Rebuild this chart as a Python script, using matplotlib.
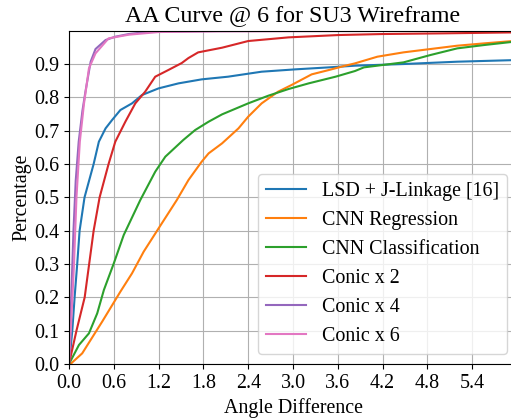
import matplotlib
matplotlib.use('Agg')
import matplotlib.pyplot as plt

plt.rcParams['font.family'] = ['Liberation Serif', 'DejaVu Serif']
plt.rcParams['font.size'] = 14.4

# curves (angle difference -> cumulative percentage)
lsd_x = [0, 0.01, 0.044, 0.075, 0.11, 0.142, 0.208, 0.33, 0.4, 0.49, 0.577, 0.688,
         0.844, 0.977, 1.2, 1.467, 1.777, 2.13, 2.58, 3.03, 3.48, 3.83, 4.48, 5.2, 6.0]
lsd_y = [0, 0.02, 0.1, 0.2, 0.3, 0.4, 0.5, 0.6, 0.667, 0.707, 0.732, 0.762,
         0.782, 0.807, 0.827, 0.842, 0.854, 0.862, 0.877, 0.884, 0.89, 0.895, 0.9, 0.907, 0.912]

reg_x = [0, 0.02, 0.177, 0.444, 0.688, 0.844, 1.0, 1.2, 1.444, 1.6, 1.777, 1.87, 2.05,
         2.27, 2.4, 2.58, 2.8, 2.98, 3.25, 3.48, 3.7, 3.83, 4.13, 4.48, 4.84, 5.2, 5.56, 6.0]
reg_y = [0, 0, 0.032, 0.127, 0.217, 0.272, 0.337, 0.407, 0.492, 0.552, 0.607, 0.632, 0.662,
         0.707, 0.742, 0.782, 0.817, 0.837, 0.869, 0.882, 0.895, 0.902, 0.922, 0.935, 0.945,
         0.955, 0.962, 0.97]

cls_x = [0, 0.133, 0.267, 0.378, 0.467, 0.6, 0.733, 0.955, 1.155, 1.29, 1.53, 1.69, 1.87,
         2.05, 2.4, 2.67, 2.94, 3.21, 3.57, 3.83, 3.95, 4.48, 4.84, 5.2, 5.56, 6.0]
cls_y = [0, 0.057, 0.092, 0.152, 0.222, 0.302, 0.387, 0.492, 0.577, 0.622, 0.672, 0.702,
         0.727, 0.749, 0.782, 0.805, 0.825, 0.842, 0.862, 0.879, 0.89, 0.905, 0.927, 0.947,
         0.957, 0.968]

conic2_x = [0, 0.1, 0.21, 0.27, 0.33, 0.41, 0.53, 0.62, 0.755, 0.888, 1.02, 1.155, 1.33,
            1.51, 1.6, 1.73, 2.05, 2.4, 2.94, 3.61, 4.2, 5.0, 6.0]
conic2_y = [0, 0.1, 0.2, 0.3, 0.4, 0.5, 0.6, 0.667, 0.727, 0.782, 0.817, 0.862, 0.882,
            0.903, 0.918, 0.935, 0.949, 0.969, 0.98, 0.987, 0.99, 0.992, 0.995]

conic4_x = [0, 0.03, 0.06, 0.09, 0.13, 0.18, 0.22, 0.29, 0.355, 0.49, 0.62, 0.8, 1.07, 2.0, 6.0]
conic4_y = [0, 0.2, 0.4, 0.55, 0.667, 0.76, 0.817, 0.907, 0.945, 0.972, 0.982, 0.99, 0.997,
            0.999, 1.0]

conic6_x = [0, 0.035, 0.067, 0.1, 0.145, 0.2, 0.267, 0.355, 0.53, 0.8, 1.2, 2.0, 6.0]
conic6_y = [0, 0.15, 0.3, 0.5, 0.667, 0.78, 0.887, 0.932, 0.977, 0.988, 0.996, 0.998, 1.0]

series = [
    ('LSD + J-Linkage [16]', lsd_x, lsd_y, 'tab:blue'),
    ('CNN Regression', reg_x, reg_y, 'tab:orange'),
    ('CNN Classification', cls_x, cls_y, 'tab:green'),
    ('Conic x 2', conic2_x, conic2_y, 'tab:red'),
    ('Conic x 4', conic4_x, conic4_y, 'tab:purple'),
    ('Conic x 6', conic6_x, conic6_y, 'tab:pink'),
]

x_ticks = [0.0, 0.6, 1.2, 1.8, 2.4, 3.0, 3.6, 4.2, 4.8, 5.4]
y_ticks = [0.0, 0.1, 0.2, 0.3, 0.4, 0.5, 0.6, 0.7, 0.8, 0.9]

fig = plt.figure(figsize=(5.11, 4.19), dpi=100)
# axes run a little past the right edge, as in the cropped original
ax = fig.add_axes([69 / 511, 1 - 364 / 419, 448 / 511, 333.3 / 419])

for name, xs, ys, col in series:
    ax.plot(xs, ys, label=name, color=col, linewidth=1.5)

ax.set_xlim(0, 6)
ax.set_ylim(0, 1)
ax.set_xticks(x_ticks)
ax.set_xticklabels([f'{t:.1f}' for t in x_ticks])
ax.set_yticks(y_ticks)
ax.set_yticklabels([f'{t:.1f}' for t in y_ticks])
ax.grid(True)
ax.set_axisbelow(True)

ax.set_xlabel('Angle Difference')
ax.set_ylabel('Percentage', labelpad=2)
ax.set_title('AA Curve @ 6 for SU3 Wireframe', fontsize=17.3)
ax.legend(loc='lower right')

fig.savefig('out.png', dpi=100)
